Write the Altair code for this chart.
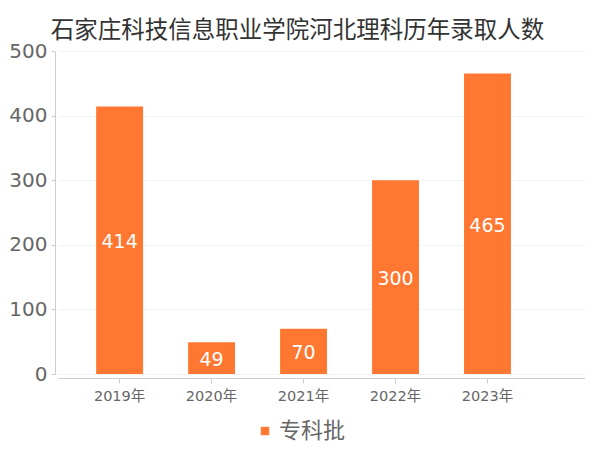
import altair as alt
import pandas as pd

years = ["2019年", "2020年", "2021年", "2022年", "2023年"]
values = [414, 49, 70, 300, 465]
series = ["专科批"] * 5
y_ticks = [0, 100, 200, 300, 400, 500]

ORANGE = "#FF7730"
FONT = "DejaVu Sans, Noto Sans CJK SC, sans-serif"
CJK = "Noto Sans CJK SC, sans-serif"

df = pd.DataFrame({"year": years, "value": values, "series": series})

xenc = alt.X(
    "year:N",
    sort=years,
    scale=alt.Scale(paddingInner=0.49, paddingOuter=0.61, align=0.34),
    axis=alt.Axis(
        title=None, labelAngle=0, labelFont=FONT, labelFontSize=14.5,
        labelColor="#666666", domainColor="#cccccc", tickColor="#cccccc",
        tickSize=5, labelPadding=6, offset=4, grid=False,
    ),
)

bars = alt.Chart(df).mark_bar().encode(
    x=xenc,
    y=alt.Y(
        "value:Q",
        scale=alt.Scale(domain=[0, 500], nice=False),
        axis=alt.Axis(
            title=None, values=y_ticks, labelFont=FONT, labelFontSize=20,
            labelColor="#666666", domainColor="#cccccc", tickColor="#cccccc",
            tickSize=4, labelPadding=4, offset=3, gridColor="#f3f3f3",
        ),
    ),
    color=alt.Color(
        "series:N",
        scale=alt.Scale(range=[ORANGE]),
        legend=alt.Legend(
            title=None, orient="none", legendX=196, legendY=369,
            symbolType="square", symbolSize=70, labelFont=CJK,
            labelFontSize=22, labelColor="#666666", padding=0, labelOffset=3,
        ),
    ),
)

labels = alt.Chart(df).transform_calculate(mid="datum.value / 2").mark_text(
    color="white", fontSize=19, font=FONT, baseline="middle", align="center", dy=2
).encode(
    x=alt.X("year:N", sort=years),
    y=alt.Y("mid:Q"),
    text=alt.Text("value:Q"),
)

chart = alt.layer(bars, labels).properties(
    width=527,
    height=323,
    padding={"left": 50, "top": 43, "right": 0, "bottom": 85},
    autosize="none",
    title=alt.Title(
        "石家庄科技信息职业学院河北理科历年录取人数",
        font=CJK, fontSize=23.5, fontWeight="normal", color="#333333",
        anchor="middle", dx=-24, offset=-1,
    ),
).configure_view(stroke=None)

chart.save("out.html", embed_options={"renderer": "svg", "actions": False})
